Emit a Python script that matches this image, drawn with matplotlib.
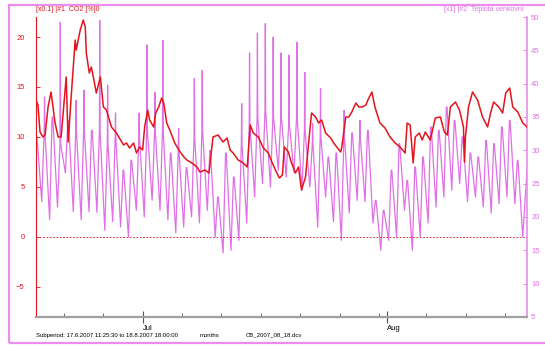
import numpy as np
import matplotlib
matplotlib.use("Agg")
import matplotlib.pyplot as plt
from matplotlib.patches import Rectangle

plt.rcParams["font.family"] = ["Liberation Sans", "DejaVu Sans"]

# time axis: days since 17.6.2007 00:00
t_start = 0.477   # 17.6.2007 11:25
t_end = 62.75     # 18.8.2007 18:00

# CO2 [%] x0.1 (left axis)
co2_day = [0.48, 0.73, 0.99, 1.37, 1.63, 2.01, 2.39, 2.90, 3.29, 3.67, 4.18, 4.31, 4.56, 4.94,
           5.45, 5.58, 6.09, 6.47, 6.73, 6.86, 7.24, 7.49, 7.75, 8.13, 8.64, 9.03, 9.41, 10.05,
           10.68, 11.58, 11.96, 12.34, 12.85, 13.23, 13.62, 14.0, 14.26, 14.64, 14.89, 15.40,
           15.66, 16.04, 16.42, 16.68, 17.06, 17.44, 18.08, 18.59, 19.23, 19.61, 20.25, 20.89,
           21.27, 21.91, 22.42, 22.93, 23.57, 24.20, 24.71, 25.10, 25.48, 26.12, 26.76, 27.27,
           27.65, 28.03, 28.67, 29.31, 29.94, 30.45, 30.84, 31.35, 31.73, 31.98, 32.49, 32.88,
           33.39, 33.77, 34.15, 34.66, 35.05, 35.43, 35.94, 36.32, 36.70, 37.21, 37.85, 38.23,
           38.62, 39.13, 39.26, 39.77, 40.15, 40.53, 41.04, 41.42, 41.81, 42.32, 42.57, 43.08,
           43.46, 44.10, 44.74, 45.38, 46.02, 46.65, 47.29, 47.55, 47.93, 48.31, 48.57, 49.08,
           49.46, 49.85, 50.48, 51.12, 51.76, 52.27, 52.65, 53.03, 53.67, 54.18, 54.69, 54.82,
           54.94, 55.33, 55.84, 56.48, 57.11, 57.75, 58.13, 58.52, 59.16, 59.66, 60.05, 60.56,
           60.94, 61.58, 62.22, 62.75]
co2_val = [13.7, 13.2, 10.5, 10.0, 10.2, 13.0, 14.5, 11.4, 10.0, 10.0, 14.7, 16.0, 9.5, 14.0,
           19.7, 18.7, 20.7, 21.7, 21.0, 18.4, 16.4, 17.0, 16.0, 14.4, 16.0, 13.0, 12.7, 11.0,
           10.4, 9.2, 9.4, 8.9, 9.4, 8.4, 9.0, 8.7, 11.0, 12.7, 11.7, 11.0,
           12.4, 13.0, 13.9, 13.4, 11.4, 10.7, 9.4, 8.7, 8.0, 7.7, 7.4, 7.0,
           6.5, 6.7, 6.4, 10.0, 10.2, 9.5, 9.9, 8.7, 8.4, 7.7, 7.4, 7.0,
           11.2, 10.4, 10.0, 8.9, 8.4, 7.4, 6.7, 5.9, 6.2, 9.0, 8.5, 7.4,
           6.4, 7.0, 4.7, 6.0, 9.4, 12.4, 12.0, 11.4, 11.7, 10.4, 9.9, 9.4,
           9.0, 8.5, 9.0, 12.0, 12.0, 12.5, 13.4, 13.0, 13.0, 13.2, 13.7, 14.5,
           13.0, 11.4, 10.9, 10.0, 9.4, 9.0, 8.4, 11.4, 11.2, 7.4, 10.0, 10.4,
           9.7, 10.5, 9.7, 11.9, 12.0, 10.5, 10.2, 13.0, 13.5, 12.7, 11.0, 7.5,
           10.0, 13.0, 14.5, 13.7, 12.0, 11.0, 12.4, 13.5, 13.0, 12.4, 14.4, 14.9,
           13.0, 12.5, 11.4, 11.0]

# outdoor temperature (right axis): daily minimum, daily peak, short spikes
temp_first = 28.0
temp_min = [None, 22.3, 19.6, 21.5, 26.6, 20.8, 19.6, 20.8, 20.7, 18.0, 19.3, 18.5, 17.0, 21.0,
            20.0, 22.5, 21.0, 19.6, 17.6, 18.5, 20.0, 19.1, 21.0, 17.0, 14.6, 15.0, 16.5, 19.1,
            23.0, 25.0, 24.5, 27.0, 26.0, 26.6, 24.0, 24.5, 18.5, 23.0, 19.3, 16.5, 20.6, 22.5,
            22.3, 19.1, 15.0, 16.5, 17.0, 21.0, 15.0, 17.0, 19.1, 21.5, 23.0, 24.0, 25.0, 22.3,
            23.0, 21.5, 20.6, 22.0, 23.0, 22.0, 17.0]
temp_peak = [32.0, 33.0, 35.0, 31.0, 34.5, 33.0, 33.0, 33.0, 33.0, 31.0, 32.0, 27.0, 28.5, 32.0,
             33.0, 33.0, 33.0, 29.6, 30.0, 27.4, 32.0, 33.0, 30.0, 23.0, 29.6, 26.0, 31.0, 34.0,
             35.0, 36.0, 35.0, 35.0, 34.0, 35.0, 33.0, 31.0, 32.0, 29.0, 29.6, 32.0, 32.6, 32.0,
             33.0, 22.5, 21.0, 27.0, 31.0, 25.5, 27.5, 29.0, 33.5, 33.0, 36.5, 34.5, 32.0, 29.6,
             29.0, 31.5, 31.0, 33.5, 34.5, 28.5, 27.0]
temp_spike = [None, 38.0, None, 49.2, None, 37.5, 39.0, None, 49.5, 39.8, 35.6, None, None, 35.6,
              45.8, 38.7, 46.5, None, 33.3, None, 40.8, 42.0, None, None, None, None, 37.0, 44.6,
              47.6, 49.0, 47.0, 44.6, 44.3, 46.2, 41.7, 34.0, 39.3, None, None, 36.0, None, 34.5,
              None, None, None, None, None, None, None, None, None, None, None, None, None, None,
              None, None, None, None, None, None, None]

# build temperature series
tt, tv = [t_start], [temp_first]
for d in range(len(temp_peak)):
    if temp_min[d] is not None:
        tt.append(d + 5 / 24)
        tv.append(temp_min[d])
    if d == len(temp_peak) - 1:
        tt.append(t_end)
        tv.append(temp_peak[d])
        break
    sp = temp_spike[d] if temp_spike[d] is not None else temp_peak[d]
    tt += [d + 12.5 / 24, d + 13.5 / 24, d + 14.5 / 24]
    tv += [temp_peak[d], sp, temp_peak[d]]

red = "#e3141c"
mag = "#e070e6"

fig = plt.figure(figsize=(5.45, 3.47), dpi=100)
ax = fig.add_axes([0.066, 0.0865, 0.901, 0.8645])
ax2 = ax.twinx()
ax.set_zorder(ax2.get_zorder() + 1)
ax.patch.set_visible(False)

ax2.plot(tt, tv, color=mag, lw=0.9)
ax.plot(co2_day, co2_val, color=red, lw=1.1)
ax.axhline(0, color=red, lw=0.6, ls=(0, (2, 2)))

ax.set_xlim(t_start, t_end)
ax.set_ylim(-8, 22)
ax2.set_ylim(5, 50)

# axis styling
for a in (ax, ax2):
    for s in a.spines.values():
        s.set_visible(False)
ax.spines["left"].set_visible(True)
ax.spines["left"].set_color(red)
ax.spines["left"].set_linewidth(0.8)
ax.spines["bottom"].set_visible(True)
ax.spines["bottom"].set_color("#a0a0a0")
ax.spines["bottom"].set_linewidth(1.6)
ax2.spines["right"].set_visible(True)
ax2.spines["right"].set_color("#e98de9")
ax2.spines["right"].set_linewidth(1.2)

ax.set_yticks([-5, 0, 5, 10, 15, 20])
ax.tick_params(axis="y", colors=red, direction="in", length=3, width=0.6, labelsize=5.5, pad=8)
ax2.set_yticks(range(5, 51, 5))
ax2.tick_params(axis="y", colors=mag, direction="in", length=3, width=0.6, labelsize=5.5, pad=3)

# month ticks and 5-day minor ticks
ax.set_xticks([14, 45])
ax.set_xticklabels(["Jul", "Aug"], ha="left")
ax.set_xticks([4, 9, 19, 24, 29, 34, 39, 44, 50, 55, 60], minor=True)
ax.tick_params(axis="x", which="major", direction="inout", length=9, width=0.8, color="#505050",
               labelsize=5.5, pad=1)
ax.tick_params(axis="x", which="minor", direction="in", length=3, width=0.6, color="#505050")

# headers
fig.text(0.066, 0.963, "[x0.1] |#1  CO2 [%]0", color=red, fontsize=5, ha="left", va="bottom")
fig.text(0.962, 0.963, "[x1] |#2  Teplota venkovní", color=mag, fontsize=5, ha="right", va="bottom")

# footer
fig.text(0.066, 0.030, "Subperiod: 17.6.2007 11:25:30 to 18.8.2007 18:00:00", fontsize=4.3, ha="left")
fig.text(0.367, 0.030, "months", fontsize=4.3, ha="left")
fig.text(0.45, 0.030, "CB_2007_08_18.dcv", fontsize=4.3, ha="left")

# outer frame
fig.add_artist(Rectangle((0.017, 0.011), 1.0, 0.974, transform=fig.transFigure, fill=False,
                         edgecolor="#ec8cec", lw=1.6))

fig.savefig("out.png", dpi=100)
